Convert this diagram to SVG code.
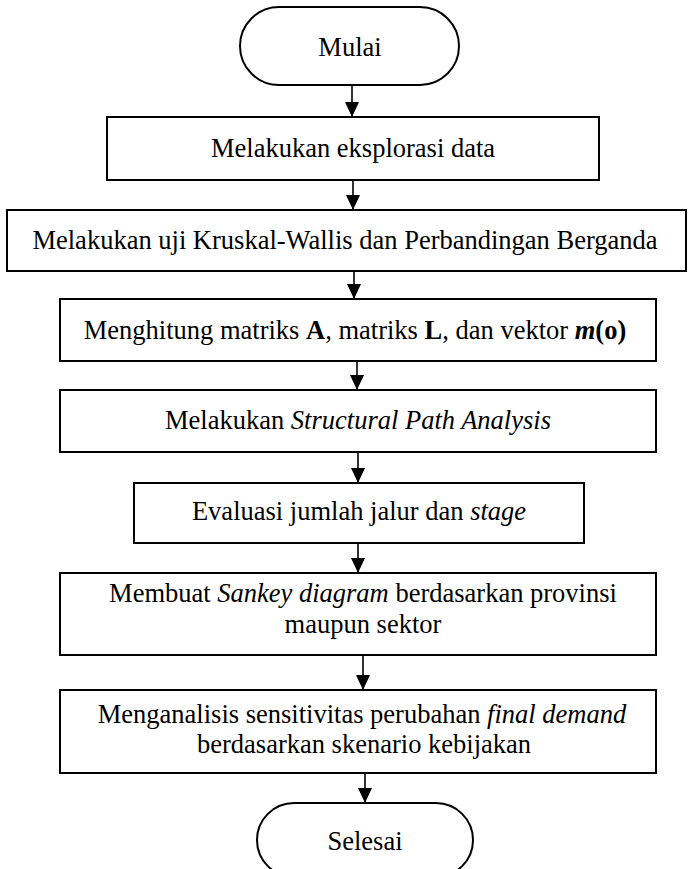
<svg xmlns="http://www.w3.org/2000/svg" width="688" height="869" viewBox="0 0 688 869">
<style>
.n{fill:#fff;stroke:#000;stroke-width:2}
.t{font-family:"Liberation Serif","Times New Roman",serif;font-size:26.5px;fill:#000;text-anchor:middle}
.c{stroke:#000;stroke-width:1.6;fill:none}
.i{font-style:italic}
.b{font-weight:bold}
</style>
<defs>
<marker id="ah" markerUnits="userSpaceOnUse" markerWidth="15" markerHeight="14" refX="15" refY="7" orient="auto" viewBox="0 0 15 14">
<path d="M0,0 L15,7 L0,14 Z" fill="#000"/>
</marker>
</defs>
<rect width="688" height="869" fill="#fff"/>
<g id="connectors">
<line class="c" x1="352" y1="85" x2="352" y2="117" marker-end="url(#ah)"/>
<line class="c" x1="353" y1="180" x2="353" y2="210" marker-end="url(#ah)"/>
<line class="c" x1="354" y1="271" x2="354" y2="299" marker-end="url(#ah)"/>
<line class="c" x1="357" y1="361" x2="357" y2="390" marker-end="url(#ah)"/>
<line class="c" x1="358" y1="452" x2="358" y2="483" marker-end="url(#ah)"/>
<line class="c" x1="358" y1="543" x2="358" y2="573" marker-end="url(#ah)"/>
<line class="c" x1="363" y1="655" x2="363" y2="690" marker-end="url(#ah)"/>
<line class="c" x1="365" y1="773" x2="365" y2="803" marker-end="url(#ah)"/>
</g>
<g id="mulai">
<rect class="n" x="240" y="7" width="219" height="78" rx="39"/>
<text class="t" x="350" y="56">Mulai</text>
</g>
<g id="eksplorasi">
<rect class="n" x="107" y="117" width="492" height="63"/>
<text class="t" x="353" y="157">Melakukan eksplorasi data</text>
</g>
<g id="kruskal">
<rect class="n" x="7" y="210" width="679" height="61"/>
<text class="t" x="345" y="249">Melakukan uji Kruskal-Wallis dan Perbandingan Berganda</text>
</g>
<g id="menghitung">
<rect class="n" x="60" y="299" width="596" height="62"/>
<text class="t" x="355" y="339">Menghitung matriks <tspan class="b">A</tspan>, matriks <tspan class="b">L</tspan>, dan vektor <tspan class="b i">m</tspan><tspan class="b">(o)</tspan></text>
</g>
<g id="spa">
<rect class="n" x="60" y="390" width="596" height="62"/>
<text class="t" x="358" y="429">Melakukan <tspan class="i">Structural Path Analysis</tspan></text>
</g>
<g id="evaluasi">
<rect class="n" x="134" y="483" width="450" height="60"/>
<text class="t" x="359" y="520">Evaluasi jumlah jalur dan <tspan class="i">stage</tspan></text>
</g>
<g id="sankey">
<rect class="n" x="60" y="573" width="596" height="82"/>
<text class="t" x="363" y="602">Membuat <tspan class="i">Sankey diagram</tspan> berdasarkan provinsi</text>
<text class="t" x="363" y="633">maupun sektor</text>
</g>
<g id="sensitivitas">
<rect class="n" x="60" y="690" width="596" height="83"/>
<text class="t" x="362" y="723">Menganalisis sensitivitas perubahan <tspan class="i">final demand</tspan></text>
<text class="t" x="364" y="753">berdasarkan skenario kebijakan</text>
</g>
<g id="selesai">
<rect class="n" x="257" y="803" width="216" height="74" rx="37"/>
<text class="t" x="365" y="850">Selesai</text>
</g>
</svg>
